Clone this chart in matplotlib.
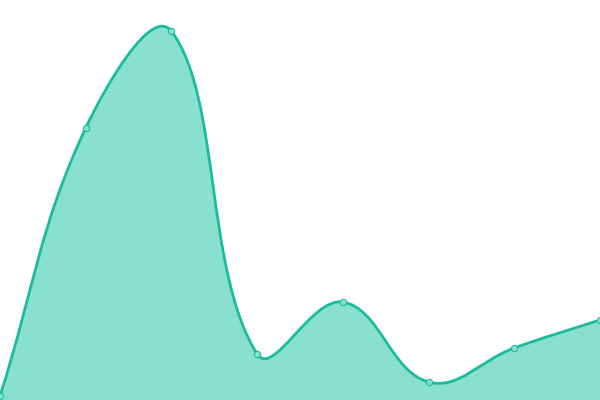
import numpy as np
import matplotlib.pyplot as plt
from matplotlib.path import Path
from matplotlib.patches import PathPatch

# -----------------------------
# Data
# -----------------------------
labels = ["A", "B", "C", "D", "E", "F", "G", "H"]
values = [1, 68, 92.2, 11.5, 24.5, 4.5, 13, 20]

LINE = "#1abc9c"
FILL = "#8ae0ce"
TENSION = 0.4
Y_MAX = 100


def spline_controls(xs, ys, sx, sy, t):
    # chart.js style control points, distances measured in pixels
    n = len(xs)
    ctrl = []
    for i in range(n):
        px, py = (xs[i - 1], ys[i - 1]) if i > 0 else (xs[i], ys[i])
        nx, ny = (xs[i + 1], ys[i + 1]) if i < n - 1 else (xs[i], ys[i])
        d01 = np.hypot((xs[i] - px) * sx, (ys[i] - py) * sy)
        d12 = np.hypot((nx - xs[i]) * sx, (ny - ys[i]) * sy)
        tot = d01 + d12
        s01 = d01 / tot if tot else 0
        s12 = d12 / tot if tot else 0
        fa, fb = t * s01, t * s12
        prev_c = (xs[i] - fa * (nx - px), ys[i] - fa * (ny - py))
        next_c = (xs[i] + fb * (nx - px), ys[i] + fb * (ny - py))
        ctrl.append((prev_c, next_c))
    return ctrl


def main():
    fig = plt.figure(figsize=(6, 4), dpi=100)
    ax = fig.add_axes([0, 0, 1, 1])
    x = np.arange(len(values))
    ax.set_xlim(0, len(values) - 1)
    ax.set_ylim(0, Y_MAX)
    ax.axis("off")

    sx = 600 / (len(values) - 1)
    sy = 400 / Y_MAX
    ctrl = spline_controls(x, values, sx, sy, TENSION)

    verts = [(x[0], values[0])]
    codes = [Path.MOVETO]
    for i in range(1, len(values)):
        verts += [ctrl[i - 1][1], ctrl[i][0], (x[i], values[i])]
        codes += [Path.CURVE4] * 3

    fill_verts = verts + [(x[-1], 0), (x[0], 0), (x[0], values[0])]
    fill_codes = codes + [Path.LINETO, Path.LINETO, Path.CLOSEPOLY]
    ax.add_patch(PathPatch(Path(fill_verts, fill_codes), facecolor=FILL,
                           edgecolor="none", zorder=1))
    ax.add_patch(PathPatch(Path(verts, codes), facecolor="none",
                           edgecolor=LINE, linewidth=2.0, zorder=2))

    ax.plot(x, values, linestyle="none", marker="o", markersize=4.5,
            markerfacecolor=FILL, markeredgecolor=LINE, markeredgewidth=0.8,
            zorder=3, clip_on=False)

    fig.savefig("out.png", dpi=100)
    plt.close(fig)


if __name__ == "__main__":
    main()
